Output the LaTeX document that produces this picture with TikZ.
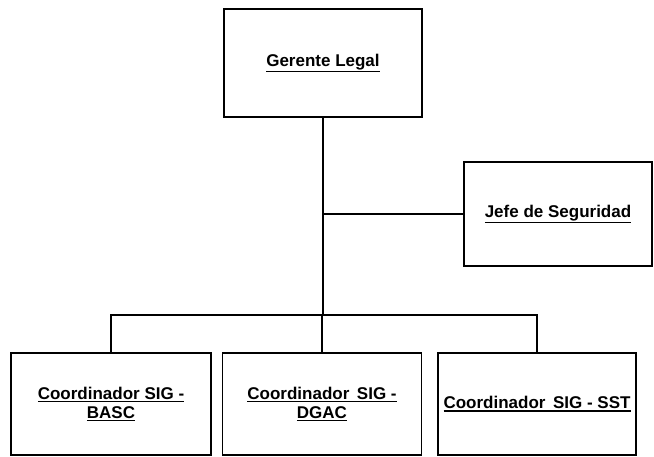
\documentclass[tikz,border=0pt]{standalone}
\usepackage{fontspec}
\setmainfont{Liberation Sans}
\newcommand\ulx[1]{\leavevmode\vtop{\hbox{#1}\kern1.2pt\hrule height1.5pt}}
\begin{document}
\begin{tikzpicture}[x=1pt,y=-1pt,
  box/.style={draw=black,line width=1.7pt,fill=white,minimum width=#1,inner sep=0pt,align=center,font=\bfseries\fontsize{17}{21}\selectfont},
  box/.default=200pt,
  link/.style={draw=black,line width=1.5pt}]
\useasboundingbox[fill=white] (0,0) rectangle (654,457);
\node[box=198pt,minimum height=108pt] (gl) at (323,63) {\ulx{Gerente Legal}};
\node[box=188pt,minimum height=104pt] (js) at (558,214) {\ulx{Jefe de Seguridad}};
\node[box=200pt,minimum height=102pt] (c1) at (111,404) {\ulx{Coordinador SIG -}\\[-2pt]\ulx{BASC}};
\node[box=199pt,minimum height=102pt] (c2) at (322,404) {\ulx{Coordinador\, SIG -}\\[-2pt]\ulx{DGAC}};
\node[box=198pt,minimum height=102pt] (c3) at (537,404) {\ulx{Coordinador\, SIG - SST}};
\coordinate (bus) at (gl.south |- 0,315);
\draw[link] (gl.south) -- (bus);
\draw[link] (gl.south |- js.west) -- (js.west);
\draw[link] (c1.north) -- (c1.north |- bus) -- (c3.north |- bus) -- (c3.north);
\draw[link] (c2.north) -- (c2.north |- bus);
\end{tikzpicture}
\end{document}
